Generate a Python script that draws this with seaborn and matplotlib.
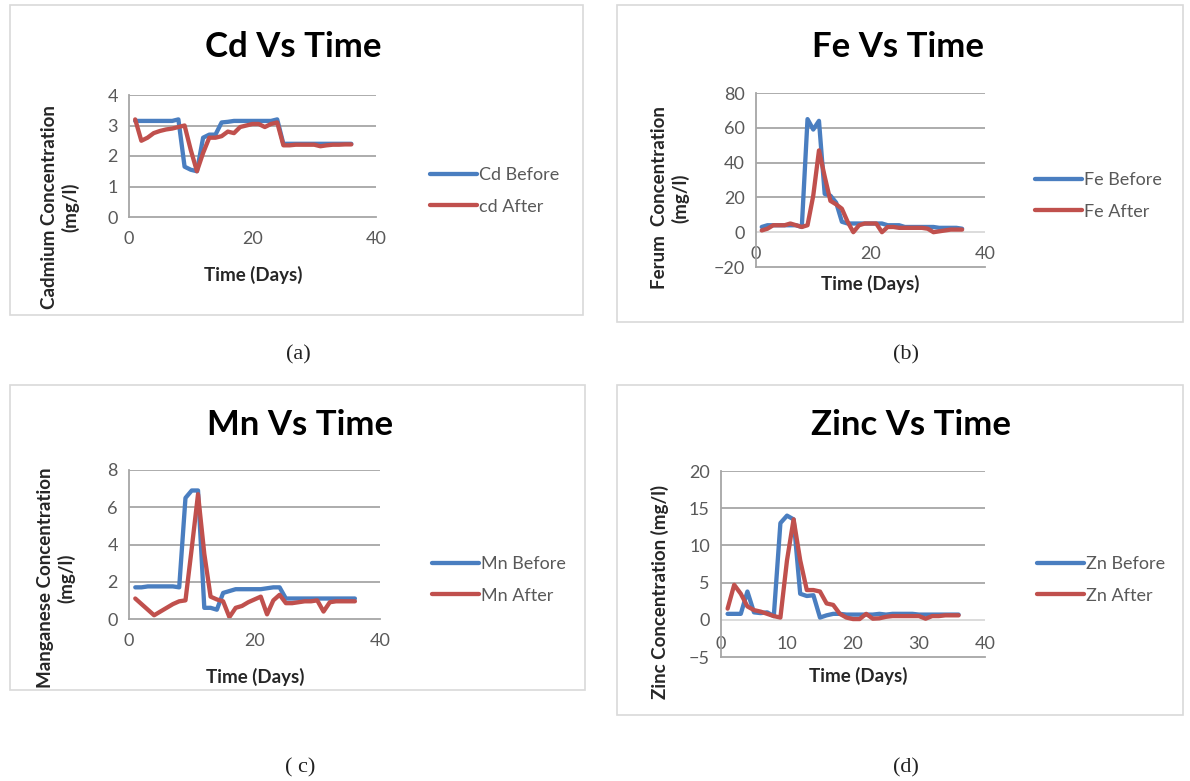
import matplotlib
matplotlib.use("Agg")
import matplotlib.pyplot as plt
from matplotlib.patches import Rectangle
import numpy as np
import pandas as pd
import seaborn as sns

# days of sampling
days = list(range(1, 37))

cd_before = [3.15, 3.15, 3.15, 3.15, 3.15, 3.15, 3.15, 3.2, 1.65, 1.55, 1.5, 2.6,
             2.7, 2.7, 3.1, 3.12, 3.15, 3.15, 3.15, 3.15, 3.15, 3.15, 3.15, 3.2,
             2.4, 2.4, 2.4, 2.4, 2.4, 2.4, 2.4, 2.4, 2.4, 2.4, 2.4, 2.4]
cd_after = [3.2, 2.5, 2.6, 2.75, 2.82, 2.87, 2.9, 2.95, 3.0, 2.2, 1.5, 2.1,
            2.6, 2.6, 2.65, 2.8, 2.75, 2.95, 3.0, 3.05, 3.05, 2.95, 3.05, 3.1,
            2.35, 2.35, 2.37, 2.37, 2.37, 2.37, 2.32, 2.35, 2.37, 2.37, 2.38, 2.38]

fe_before = [3, 4, 4, 4, 4, 4, 4, 3, 65, 59, 64, 22,
             21, 17, 6, 5, 5, 5, 5, 5, 5, 5, 4, 4,
             4, 3, 3, 3, 3, 3, 3, 2.5, 2.5, 2.5, 2.5, 2]
fe_after = [1, 2, 4, 4, 4, 5, 4, 3, 4, 21, 47, 32,
            18, 16, 13.5, 6, 0, 4, 5, 5, 5, 0, 3, 3,
            2.5, 2.5, 2.5, 2.5, 2.5, 2, 0, 0.5, 1, 1.5, 1.5, 1.5]

mn_before = [1.7, 1.7, 1.75, 1.75, 1.75, 1.75, 1.75, 1.7, 6.5, 6.9, 6.9, 0.6,
             0.6, 0.5, 1.4, 1.5, 1.6, 1.6, 1.6, 1.6, 1.6, 1.65, 1.7, 1.7,
             1.1, 1.1, 1.1, 1.1, 1.1, 1.1, 1.1, 1.1, 1.1, 1.1, 1.1, 1.1]
mn_after = [1.1, 0.8, 0.5, 0.2, 0.4, 0.6, 0.8, 0.95, 1.0, 3.8, 6.7, 3.5,
            1.2, 1.05, 0.95, 0.1, 0.6, 0.7, 0.9, 1.05, 1.2, 0.25, 1.0, 1.3,
            0.85, 0.85, 0.9, 0.95, 0.95, 1.0, 0.4, 0.9, 0.95, 0.95, 0.95, 0.95]

zn_before = [0.8, 0.8, 0.8, 3.8, 1.0, 0.9, 1.0, 0.5, 13, 14, 13.5, 3.5,
             3.2, 3.3, 0.3, 0.6, 0.8, 0.8, 0.7, 0.7, 0.7, 0.7, 0.7, 0.8,
             0.7, 0.8, 0.8, 0.8, 0.8, 0.7, 0.7, 0.7, 0.7, 0.7, 0.7, 0.7]
zn_after = [1.5, 4.7, 3.5, 1.8, 1.3, 1.1, 0.8, 0.5, 0.3, 8, 13.5, 8,
            4, 4, 3.8, 2.2, 2.0, 0.8, 0.3, 0.1, 0.1, 0.8, 0.15, 0.2,
            0.4, 0.5, 0.5, 0.5, 0.5, 0.5, 0.15, 0.5, 0.5, 0.6, 0.6, 0.6]

BLUE = "#4A7EC0"
RED = "#C0504D"
GRID = "#A6A6A6"
TICK = "#595959"

sns.set_style("white")
plt.rcParams["font.family"] = ["Lato", "DejaVu Sans"]

W, H = 1190, 781
fig = plt.figure(figsize=(W / 100, H / 100), dpi=100)


def fx(px):
    return px / W


def fy(py):
    return 1 - py / H


panels = [
    dict(box=(10, 5, 583, 315), axes=(129, 95, 376, 217), ylim=(0, 4), ystep=1,
         xticks=[0, 20, 40], before=cd_before, after=cd_after,
         names=("Cd Before", "cd After"), title="Cd Vs Time", title_xy=(293, 47),
         ylabel="Cadmium Concentration\n(mg/l)", ylabel_xy=(60, 207),
         xlabel_xy=(253, 275), leg=(421, 191), cap="(a)", cap_xy=(298, 355),
         inside=False),
    dict(box=(617, 5, 1183, 322), axes=(756, 93, 985, 267), ylim=(-20, 80), ystep=20,
         xticks=[0, 20, 40], before=fe_before, after=fe_after,
         names=("Fe Before", "Fe After"), title="Fe Vs Time", title_xy=(898, 47),
         ylabel="Ferum  Concentration\n(mg/l)", ylabel_xy=(670, 198),
         xlabel_xy=(870, 284), leg=(1026, 196), cap="(b)", cap_xy=(906, 355),
         inside=True),
    dict(box=(10, 385, 585, 690), axes=(129, 470, 380, 619), ylim=(0, 8), ystep=2,
         xticks=[0, 20, 40], before=mn_before, after=mn_after,
         names=("Mn Before", "Mn After"), title="Mn Vs Time", title_xy=(300, 425),
         ylabel="Manganese Concentration\n(mg/l)", ylabel_xy=(56, 578),
         xlabel_xy=(255, 677), leg=(423, 580), cap="( c)", cap_xy=(300, 768),
         inside=False),
    dict(box=(617, 385, 1183, 715), axes=(721, 471, 985, 657), ylim=(-5, 20), ystep=5,
         xticks=[0, 10, 20, 30, 40], before=zn_before, after=zn_after,
         names=("Zn Before", "Zn After"), title="Zinc Vs Time", title_xy=(911, 425),
         ylabel="Zinc Concentration (mg/l)", ylabel_xy=(660, 592),
         xlabel_xy=(858, 676), leg=(1028, 580), cap="(d)", cap_xy=(906, 768),
         inside=True),
]

for p in panels:
    l, t, r, b = p["box"]
    fig.patches.append(Rectangle((fx(l), fy(b)), fx(r - l), (b - t) / H,
                                 transform=fig.transFigure, fill=False,
                                 edgecolor="#D9D9D9", linewidth=1.2))

    al, at, ar, ab = p["axes"]
    ax = fig.add_axes([fx(al), fy(ab), fx(ar - al), (ab - at) / H])

    df = pd.DataFrame({"day": days, "before": p["before"], "after": p["after"]})
    sns.lineplot(data=df, x="day", y="before", ax=ax, color=BLUE, linewidth=3.1,
                 label=p["names"][0], solid_joinstyle="round", solid_capstyle="round")
    sns.lineplot(data=df, x="day", y="after", ax=ax, color=RED, linewidth=3.1,
                 label=p["names"][1], solid_joinstyle="round", solid_capstyle="round")

    y0, y1 = p["ylim"]
    ax.set_xlim(0, 40)
    ax.set_ylim(y0, y1)
    ax.set_xticks(p["xticks"])
    yt = np.arange(y0, y1 + p["ystep"] / 2, p["ystep"])
    ax.set_yticks(yt)
    ax.set_xlabel("")
    ax.set_ylabel("")

    # horizontal gridlines, zero line lighter when the axis goes negative
    for v in yt:
        if v == y0:
            continue
        c = "#D9D9D9" if (v == 0 and y0 < 0) else GRID
        ax.axhline(v, color=c, linewidth=1.3, zorder=0)

    for s in ["top", "right"]:
        ax.spines[s].set_visible(False)
    for s in ["left", "bottom"]:
        ax.spines[s].set_color(GRID)
        ax.spines[s].set_linewidth(1.3)

    ax.tick_params(axis="both", length=0, labelsize=13, colors=TICK)
    ax.tick_params(axis="y", pad=8)
    if p["inside"]:
        ax.tick_params(axis="x", pad=-15)
    else:
        ax.tick_params(axis="x", pad=10)

    leg = ax.legend(loc="center left", bbox_to_anchor=(fx(p["leg"][0]), fy(p["leg"][1])),
                    bbox_transform=fig.transFigure, frameon=False, fontsize=13,
                    handlelength=2.6, handletextpad=0.1, labelspacing=0.85,
                    borderpad=0, labelcolor=TICK)
    for h in leg.get_lines():
        h.set_linewidth(3.1)

    fig.text(fx(p["title_xy"][0]), fy(p["title_xy"][1]), p["title"], ha="center",
             va="center", fontsize=25, fontweight="bold", color="black")
    fig.text(fx(p["ylabel_xy"][0]), fy(p["ylabel_xy"][1]), p["ylabel"], ha="center",
             va="center", rotation=90, fontsize=13.5, fontweight="bold",
             color="#262626", linespacing=1.25, multialignment="center")
    fig.text(fx(p["xlabel_xy"][0]), fy(p["xlabel_xy"][1]), "Time (Days)", ha="center",
             va="center", fontsize=13.5, fontweight="bold", color="#262626")
    fig.text(fx(p["cap_xy"][0]), fy(p["cap_xy"][1]), p["cap"], ha="center",
             va="center", fontsize=16, family=["Liberation Serif", "DejaVu Serif"],
             color="#222222")

fig.savefig("out.png", dpi=100, facecolor="white")
